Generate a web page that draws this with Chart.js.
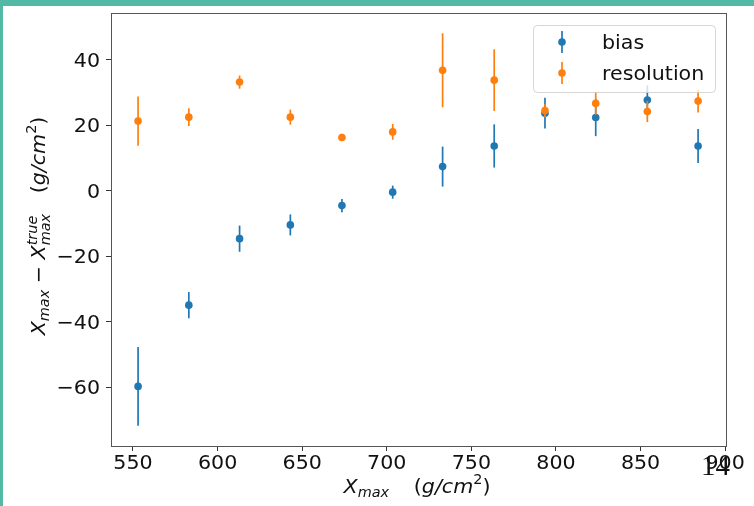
<!DOCTYPE html>
<html>
<head>
<meta charset="utf-8">
<script src="https://cdn.jsdelivr.net/npm/chart.js@4.4.1/dist/chart.umd.min.js"></script>
<style>
  html, body { margin: 0; padding: 0; background: #fff; }
  #wrap { position: relative; width: 754px; height: 506px; overflow: hidden; }
  #bar-top { position: absolute; left: 0; top: 0; width: 754px; height: 6px; background: #52b9a4; }
  #bar-left { position: absolute; left: 0; top: 0; width: 3px; height: 506px; background: #52b9a4; }
  #page { position: absolute; left: 701px; top: 449px; font: 29px "Liberation Serif"; color: #111; }
</style>
</head>
<body>
<div id="wrap">
  <canvas id="errChart" width="754" height="506"></canvas>
  <div id="bar-top"></div>
  <div id="bar-left"></div>
  <div id="page">14</div>
</div>
<script>
const xValues = [553, 583, 613, 643, 673.5, 703.5, 733, 763.5, 793.5, 823.5, 854, 884];
const biasValues = [-59.8, -35, -14.7, -10.5, -4.6, -0.5, 7.3, 13.6, 23.6, 22.3, 27.6, 13.6];
const biasErrors = [12, 4, 4, 3.2, 2, 2, 6.1, 6.6, 4.7, 5.7, 4.5, 5.2];
const resolutionValues = [21.2, 22.4, 33.1, 22.4, 16.2, 17.9, 36.7, 33.7, 24.4, 26.6, 24.1, 27.3];
const resolutionErrors = [7.5, 2.7, 2, 2.3, 1.1, 2.4, 11.3, 9.4, 2, 3.5, 3.2, 3.5];
const xTicks = [550, 600, 650, 700, 750, 800, 850, 900];
const yTicks = [-60, -40, -20, 0, 20, 40];

const FONT = '"DejaVu Sans"';
const SX = 1.03;
const n18 = '20px ' + FONT, it18 = 'italic 20px ' + FONT;
const n13 = '14px ' + FONT, it13 = 'italic 14px ' + FONT;

function runWidth(ctx, r) {
  if (r.gap) return r.gap;
  ctx.font = r.f;
  if (r.sup) return Math.max(ctx.measureText(r.sup).width, ctx.measureText(r.sub).width);
  return ctx.measureText(r.t).width;
}

// mixed-font text (sub/superscripts) centred on cx, baseline cy
function drawRuns(ctx, runs, cx, cy, angle) {
  ctx.save();
  ctx.translate(cx, cy);
  ctx.rotate(angle || 0);
  ctx.scale(SX, 1);
  ctx.fillStyle = '#111';
  ctx.textBaseline = 'alphabetic';
  ctx.textAlign = 'left';
  const total = runs.reduce((s, r) => s + runWidth(ctx, r), 0);
  let x = -total / 2;
  runs.forEach(r => {
    const w = runWidth(ctx, r);
    if (r.sup) {
      ctx.font = r.f;
      ctx.fillText(r.sup, x, -8);
      ctx.fillText(r.sub, x, 5);
    } else if (!r.gap) {
      ctx.font = r.f;
      ctx.fillText(r.t, x, r.dy || 0);
    }
    x += w;
  });
  ctx.restore();
}

function wideText(ctx, text, x, y, align) {
  ctx.save();
  ctx.translate(x, y);
  ctx.scale(SX, 1);
  ctx.font = n18;
  ctx.fillStyle = '#111';
  ctx.textAlign = align;
  ctx.textBaseline = 'alphabetic';
  ctx.fillText(text, 0, 0);
  ctx.restore();
}

const errorBars = {
  id: 'errorBars',
  beforeDatasetDraw(chart, args) {
    const ds = chart.data.datasets[args.index];
    const { ctx, scales: { x, y } } = chart;
    ctx.save();
    ctx.strokeStyle = ds.backgroundColor;
    ctx.lineWidth = 1.7;
    ds.data.forEach((p, i) => {
      const px = x.getPixelForValue(p.x);
      ctx.beginPath();
      ctx.moveTo(px, y.getPixelForValue(p.y - ds.errors[i]));
      ctx.lineTo(px, y.getPixelForValue(p.y + ds.errors[i]));
      ctx.stroke();
    });
    ctx.restore();
  }
};

const decorations = {
  id: 'decorations',
  afterDraw(chart) {
    const { ctx, chartArea: a, scales } = chart;
    // frame
    ctx.save();
    ctx.strokeStyle = '#555';
    ctx.lineWidth = 1;
    ctx.strokeRect(a.left + 0.5, a.top + 0.5, a.right - a.left, a.bottom - a.top);
    ctx.restore();

    // tick labels
    scales.x.ticks.forEach(t => wideText(ctx, String(t.value), scales.x.getPixelForValue(t.value), a.bottom + 23, 'center'));
    scales.y.ticks.forEach(t => wideText(ctx, String(t.value).replace('-', '\u2212'), 100, scales.y.getPixelForValue(t.value) + 7, 'right'));

    // legend
    const lx = 533, ly = 25, lw = 182, lh = 67;
    ctx.save();
    ctx.beginPath();
    ctx.roundRect(lx + 0.5, ly + 0.5, lw, lh, 4);
    ctx.fillStyle = 'rgba(255,255,255,0.8)';
    ctx.fill();
    ctx.strokeStyle = 'rgba(204,204,204,0.8)';
    ctx.stroke();
    chart.data.datasets.forEach((ds, i) => {
      const my = i === 0 ? 42 : 73;
      ctx.strokeStyle = ds.backgroundColor;
      ctx.fillStyle = ds.backgroundColor;
      ctx.lineWidth = 1.7;
      ctx.beginPath();
      ctx.moveTo(562, my - 11);
      ctx.lineTo(562, my + 11);
      ctx.stroke();
      ctx.beginPath();
      ctx.arc(562, my, 3.8, 0, Math.PI * 2);
      ctx.fill();
      wideText(ctx, ds.label, 602, i === 0 ? 49 : 80, 'left');
    });
    ctx.restore();

    // axis titles
    drawRuns(ctx, [
      { t: 'X', f: it18 }, { t: 'max', f: it13, dy: 4 }, { gap: 24 },
      { t: '(', f: n18 }, { t: 'g/cm', f: it18 }, { t: '2', f: n13, dy: -9 }, { t: ')', f: n18 }
    ], 417, 493, 0);
    drawRuns(ctx, [
      { t: 'X', f: it18 }, { t: 'max', f: it13, dy: 4 }, { t: ' \u2212 ', f: n18 },
      { t: 'X', f: it18 }, { sup: 'true', sub: 'max', f: it13 }, { gap: 20 },
      { t: '(', f: n18 }, { t: 'g/cm', f: it18 }, { t: '2', f: n13, dy: -9 }, { t: ')', f: n18 }
    ], 45, 226, -Math.PI / 2);
  }
};

new Chart(document.getElementById('errChart'), {
  type: 'scatter',
  data: {
    datasets: [
      {
        label: 'bias',
        data: xValues.map((x, i) => ({ x: x, y: biasValues[i] })),
        errors: biasErrors,
        backgroundColor: '#1f77b4',
        borderWidth: 0,
        pointRadius: 3.8,
        order: 1
      },
      {
        label: 'resolution',
        data: xValues.map((x, i) => ({ x: x, y: resolutionValues[i] })),
        errors: resolutionErrors,
        backgroundColor: '#ff7f0e',
        borderWidth: 0,
        pointRadius: 3.8,
        order: 0
      }
    ]
  },
  options: {
    responsive: false,
    animation: false,
    layout: { padding: { top: 13, right: 28, left: 0, bottom: 0 } },
    plugins: { legend: { display: false }, tooltip: { enabled: false } },
    scales: {
      x: {
        type: 'linear',
        min: 537,
        max: 900.5,
        afterFit: s => { s.height = 60; },
        afterBuildTicks: s => { s.ticks = xTicks.map(v => ({ value: v })); },
        grid: { drawOnChartArea: false, tickLength: 5, tickColor: '#333' },
        border: { display: false },
        ticks: { display: false }
      },
      y: {
        min: -78,
        max: 54.2,
        afterFit: s => { s.width = 111; },
        afterBuildTicks: s => { s.ticks = yTicks.map(v => ({ value: v })); },
        grid: { drawOnChartArea: false, tickLength: 5, tickColor: '#333' },
        border: { display: false },
        ticks: { display: false }
      }
    }
  },
  plugins: [errorBars, decorations]
});
</script>
</body>
</html>
